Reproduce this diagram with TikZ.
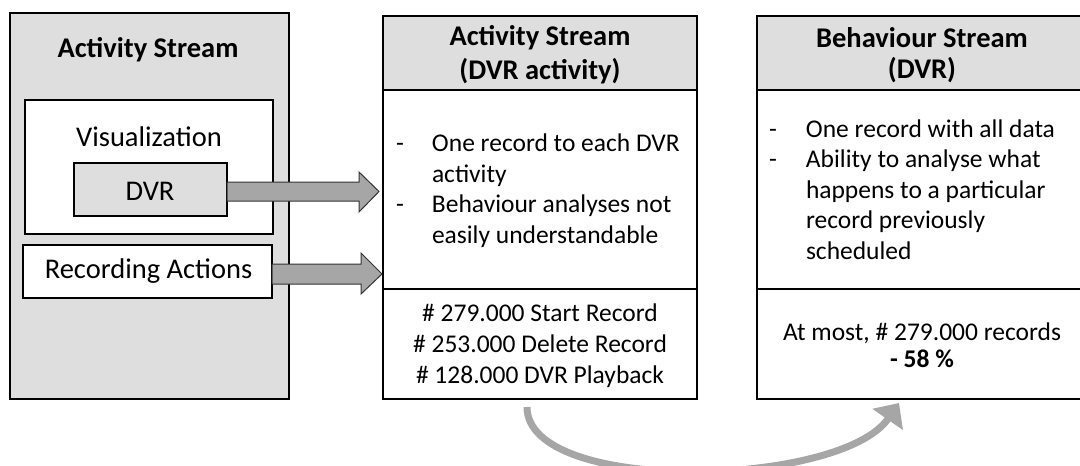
\documentclass[tikz,border=0pt]{standalone}
\usepackage{fontspec}
\setmainfont{Carlito}
\usetikzlibrary{arrows.meta,calc}
\definecolor{boxgray}{HTML}{DEDEDE}
\definecolor{arrgray}{HTML}{A6A6A6}
\begin{document}
\begin{tikzpicture}[x=1pt,y=-1pt,
  font=\fontsize{25.5}{30.5}\selectfont,
  box/.style={draw=black, line width=2.4pt, anchor=north west, inner sep=0pt, outer sep=0pt},
  label/.style={inner sep=0pt, outer sep=0pt},
  biglabel/.style={inner sep=0pt, outer sep=0pt, font=\fontsize{28.5}{33}\selectfont},
  blockarrow/.style={fill=arrgray, draw=black!80, line width=1pt, line join=miter},
  curvearrow/.style={draw=arrgray, line width=7pt, -{Triangle[width=36pt,length=20pt]}}]
\useasboundingbox (0,0) rectangle (1080,466);
\clip (0,0) rectangle (1080,466);
% left box
\node[box, fill=boxgray, minimum width=279pt, minimum height=386pt] (left) at (10,13) {};
\node[biglabel, font=\fontsize{28.5}{33}\selectfont\bfseries] (lefttitle) at (148,50) {Activity Stream};
\node[box, fill=white, minimum width=248pt, minimum height=134pt] (vis) at (25,100) {};
\node[biglabel] (vistext) at (149,137) {Visualization};
\node[box, fill=boxgray, minimum width=153pt, minimum height=53pt] (dvr) at (74,163) {};
\node[biglabel] (dvrtext) at (150,191) {DVR};
\node[box, fill=white, minimum width=249pt, minimum height=53pt] (rec) at (23,245) {};
\node[biglabel] (rectext) at (148.5,271) {Recording Actions};
% middle box
\node[box, fill=boxgray, minimum width=314pt, minimum height=74pt] (mhead) at (383,16) {};
\node[box, fill=white, minimum width=314pt, minimum height=199pt] (mbody) at (383,90) {};
\node[box, fill=white, minimum width=314pt, minimum height=110pt] (mfoot) at (383,289) {};
\node[label, align=center, font=\fontsize{28.5}{34}\selectfont\bfseries] (mheadtext) at (540,55) {Activity Stream\\(DVR activity)};
\node[label, anchor=west] (mbodytext) at (396,191.5) {%
  \begin{tabular}{@{}p{36pt}@{}l@{}}
  - & One record to each DVR\\
    & activity\\
  - & Behaviour analyses not\\
    & easily understandable
  \end{tabular}};
\node[label, align=center, font=\fontsize{25.5}{31}\selectfont] (mfoottext) at (540,346) {\# 279.000 Start Record\\\# 253.000 Delete Record\\\# 128.000 DVR Playback};
% right box
\node[box, fill=boxgray, minimum width=330pt, minimum height=74pt] (rhead) at (757,16) {};
\node[box, fill=white, minimum width=330pt, minimum height=199pt] (rbody) at (757,90) {};
\node[box, fill=white, minimum width=330pt, minimum height=110pt] (rfoot) at (757,289) {};
\node[label, align=center, font=\fontsize{28.5}{31}\selectfont\bfseries] (rheadtext) at (922,55) {Behaviour Stream\\(DVR)};
\node[label, anchor=west] (rbodytext) at (769,192) {%
  \begin{tabular}{@{}p{37pt}@{}l@{}}
  - & One record with all data\\
  - & Ability to analyse what\\
    & happens to a particular\\
    & record previously\\
    & scheduled
  \end{tabular}};
\node[label, align=center, font=\fontsize{25.5}{27}\selectfont] (rfoottext) at (922,345) {At most, \# 279.000 records\\\textbf{- 58 \%}};
% block arrows
\draw[blockarrow] (dvr.east |- 0,182) -- (359,182) -- (359,172) -- (379,191.5) -- (359,212) -- (359,201) -- (dvr.east |- 0,201) -- cycle;
\draw[blockarrow] (rec.east |- 0,264) -- (361,264) -- (361,253) -- (382,274) -- (361,294) -- (361,284) -- (rec.east |- 0,284) -- cycle;
% curved arrow
\coordinate (cstart) at (527,407);
\coordinate (cend) at (899,403);
\draw[curvearrow] (cstart) .. controls (527,495) and (840,488) .. (cend);
\end{tikzpicture}
\end{document}
